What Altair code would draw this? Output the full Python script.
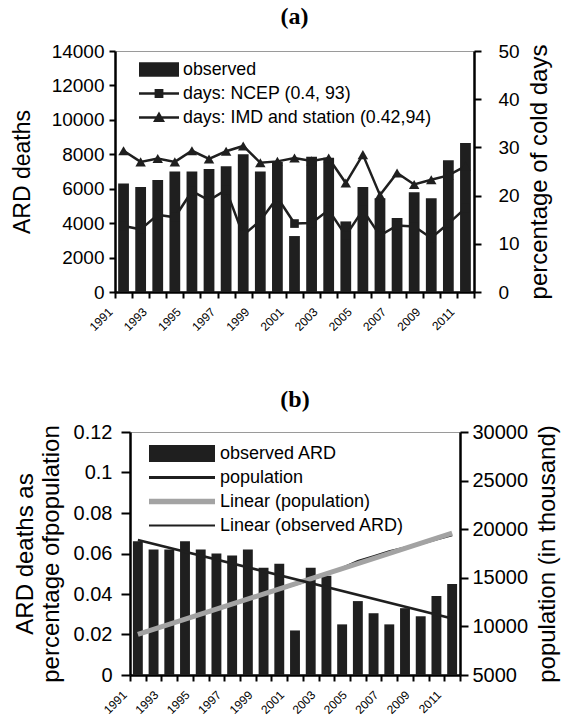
import altair as alt
import pandas as pd

# ---------------- data ----------------
years = list(range(1991, 2012))
ard_deaths = [6300, 6100, 6500, 7000, 7000, 7150, 7300, 8000, 7000, 7550, 3250,
              7850, 7800, 4100, 6100, 5450, 4300, 5800, 5450, 7650, 8650]
ncep_days = [13.7, 13.0, 16.0, 15.5, 20.9, 19.0, 21.2, 11.8, 14.8, 19.6, 14.2,
             14.3, 17.0, 11.7, 17.0, 11.7, 13.8, 13.6, 11.2, 14.2, 17.4]
imd_days = [29.3, 27.0, 27.7, 27.0, 29.3, 27.6, 29.2, 30.3, 26.8, 27.1, 27.8,
            27.2, 27.8, 22.6, 28.5, 20.1, 24.7, 22.3, 23.3, 24.2, 26.1]
ard_pct = [0.066, 0.062, 0.062, 0.066, 0.062, 0.060, 0.059, 0.062, 0.053, 0.055, 0.022,
           0.053, 0.049, 0.025, 0.0365, 0.0305, 0.025, 0.033, 0.029, 0.039, 0.045]
population = [9300, 9750, 10200, 10700, 11200, 11700, 12250, 12750, 13300, 13800, 14300,
              14800, 15400, 16000, 16700, 17200, 17700, 18100, 18500, 18950, 19400]

deaths_ticks = [0, 2000, 4000, 6000, 8000, 10000, 12000, 14000]
cold_ticks = [0, 10, 20, 30, 40, 50]
pct_ticks = [0, 0.02, 0.04, 0.06, 0.08, 0.1, 0.12]
pop_ticks = [5000, 10000, 15000, 20000, 25000, 30000]

legend_a = ["observed", "days: NCEP (0.4, 93)", "days: IMD and station (0.42,94)"]
legend_b = ["observed ARD", "population", "Linear (population)", "Linear (observed ARD)"]

# legend symbol shapes (unit paths, scaled by the legend symbol size)
paths_a = [
    "M-1,-0.36H1V0.36H-1Z",
    "M-1,-0.065H1V0.065H-1Z M-0.22,-0.22H0.22V0.22H-0.22Z",
    "M-1,-0.065H1V0.065H-1Z M-0.3,0.22L0,-0.3L0.3,0.22Z",
]
paths_b = [
    "M-1,-0.26H1V0.26H-1Z",
    "M-1,-0.045H1V0.045H-1Z",
    "M-1,-0.08H1V0.08H-1Z",
    "M-1,-0.03H1V0.03H-1Z",
]
colors_b = ["#1f1f1f", "#1f1f1f", "#a3a3a3", "#1f1f1f"]

FONT = "Liberation Sans"
INK = "#1f1f1f"
FRAME = "#9a9a9a"

# panel (b) is drawn 15 px in from its group edge, so that its frame sits
# further right than panel (a)'s, as in the reference
B_SHIFT = 15
B_WIDTH = 330

df_a = pd.DataFrame({"year": years, "deaths": ard_deaths, "ncep": ncep_days, "imd": imd_days})
df_b = pd.DataFrame({"year": years, "pct": ard_pct, "pop": population})

bottom_axis = alt.Axis(tickBand="extent", labelAngle=315, labelAlign="right", labelBaseline="top",
                       labelExpr="datum.value % 2 == 1 ? datum.label : ''",
                       labelFontSize=12, labelPadding=8, labelOffset=-17, tickSize=6,
                       labelOverlap=False)
top_frame_axis = alt.Axis(orient="top", labels=False, ticks=False, domainColor=FRAME,
                          domainWidth=1, title=None)


def x_a():
    return alt.X("year:O", title=None,
                 scale=alt.Scale(domain=years, paddingInner=0, paddingOuter=0),
                 axis=bottom_axis)


def x_b(axis):
    return alt.X("year:O", title=None,
                 scale=alt.Scale(domain=years, range=[B_SHIFT, B_SHIFT + B_WIDTH],
                                 paddingInner=0, paddingOuter=0),
                 axis=axis)


# ---------------- panel (a) ----------------
bars_a = alt.Chart(df_a).mark_bar(color=INK, width=alt.RelativeBandSize(0.63)).encode(
    x=x_a(),
    y=alt.Y("deaths:Q", scale=alt.Scale(domain=[0, 14000], nice=False),
            axis=alt.Axis(values=deaths_ticks, format="d", title="ARD deaths",
                          titleFontSize=23, titlePadding=17, labelFontSize=19,
                          tickSize=6, labelPadding=5)),
)

right_axis_a = alt.Axis(values=cold_ticks, format="d", orient="right",
                        title="percentage of cold days", titleAngle=270, titleBaseline="top",
                        titleFontSize=24, titlePadding=8, labelFontSize=19,
                        tickSize=7, labelPadding=17)

ncep_line = alt.Chart(df_a).mark_line(
    color=INK, strokeWidth=2.5,
    point=alt.OverlayMarkDef(shape="square", size=75, filled=True, color=INK, opacity=1),
).encode(
    x=x_a(),
    y=alt.Y("ncep:Q", scale=alt.Scale(domain=[0, 50], nice=False), axis=right_axis_a),
)
imd_line = alt.Chart(df_a).mark_line(
    color=INK, strokeWidth=2.5,
    point=alt.OverlayMarkDef(shape="triangle-up", size=110, filled=True, color=INK, opacity=1),
).encode(
    x=x_a(),
    y=alt.Y("imd:Q", scale=alt.Scale(domain=[0, 50], nice=False), axis=right_axis_a),
)

legend_a_layer = alt.Chart(pd.DataFrame({"series": legend_a})).transform_filter("false").mark_point(
    filled=True, color=INK, opacity=1, strokeWidth=0
).encode(
    shape=alt.Shape("series:N", scale=alt.Scale(domain=legend_a, range=paths_a),
                    legend=alt.Legend(title=None, orient="none", legendX=24, legendY=7,
                                      symbolSize=1600, clipHeight=23, rowPadding=1,
                                      labelOffset=4, labelFontSize=17.8, symbolStrokeWidth=0,
                                      padding=0, labelLimit=400)),
)

panel_a = alt.layer(
    bars_a, alt.layer(ncep_line, imd_line), legend_a_layer
).resolve_scale(y="independent").properties(
    width=359, height=241,
    title=alt.Title("(a)", font="Liberation Serif", fontSize=24, fontWeight="bold",
                    anchor="middle", offset=13, color="black"),
)

# ---------------- panel (b) ----------------
bars_b = alt.Chart(df_b).mark_bar(color=INK, width=alt.RelativeBandSize(0.63)).encode(
    x=x_b(bottom_axis),
    y=alt.Y("pct:Q", scale=alt.Scale(domain=[0, 0.12], nice=False),
            axis=alt.Axis(values=pct_ticks, format=".2~f", offset=-B_SHIFT,
                          title=["ARD deaths as", "percentage ofpopulation"],
                          titleFontSize=24, titleLineHeight=26, titlePadding=10,
                          labelFontSize=20, tickSize=9, labelPadding=9)),
)

right_axis_b = alt.Axis(values=pop_ticks, format="d", orient="right",
                        title="population (in thousand)", titleAngle=270, titleBaseline="top",
                        titleFontSize=24, titlePadding=8, labelFontSize=20,
                        tickSize=8, labelPadding=4)

pop_line = alt.Chart(df_b).mark_line(color=INK, strokeWidth=2.5).encode(
    x=x_b(top_frame_axis),
    y=alt.Y("pop:Q", scale=alt.Scale(domain=[5000, 30000], nice=False), axis=right_axis_b),
)
pop_trend = alt.Chart(df_b).transform_regression("year", "pop").mark_line(
    color="#a3a3a3", strokeWidth=5
).encode(
    x=x_b(top_frame_axis),
    y=alt.Y("pop:Q", scale=alt.Scale(domain=[5000, 30000], nice=False), axis=right_axis_b),
)
ard_trend = alt.Chart(df_b).transform_regression("year", "pct").mark_line(
    color=INK, strokeWidth=2.6
).encode(
    x=x_b(None),
    y=alt.Y("pct:Q", scale=alt.Scale(domain=[0, 0.12], nice=False), axis=None),
)

legend_b_def = alt.Legend(title=None, orient="none", legendX=19 + B_SHIFT, legendY=10,
                          symbolSize=4356, clipHeight=23, rowPadding=1,
                          labelOffset=5, labelFontSize=18, symbolStrokeWidth=0,
                          padding=0, labelLimit=400)
legend_b_layer = alt.Chart(pd.DataFrame({"series": legend_b})).transform_filter("false").mark_point(
    filled=True, opacity=1, strokeWidth=0
).encode(
    shape=alt.Shape("series:N", scale=alt.Scale(domain=legend_b, range=paths_b), legend=legend_b_def),
    color=alt.Color("series:N", scale=alt.Scale(domain=legend_b, range=colors_b), legend=legend_b_def),
)

panel_b = alt.layer(
    bars_b, alt.layer(pop_line, pop_trend), ard_trend, legend_b_layer
).resolve_scale(y="independent", x="independent").properties(
    width=B_SHIFT + B_WIDTH, height=243,
    view=alt.ViewBackground(stroke="transparent"),
    title=alt.Title("(b)", font="Liberation Serif", fontSize=24, fontWeight="bold",
                    anchor="middle", offset=10, color="black", dx=B_SHIFT / 2),
)

chart = alt.vconcat(panel_a, panel_b, spacing=53).resolve_scale(
    shape="independent", color="independent", x="independent"
).resolve_legend(
    shape="independent", color="independent"
).properties(
    padding={"left": 10, "top": 4, "right": 2, "bottom": 2}
).configure_axis(
    domainColor="black", domainWidth=2.5, tickColor="black", tickWidth=2,
    labelColor="black", titleColor="black", labelFont=FONT, titleFont=FONT,
    titleFontWeight="normal", grid=False,
).configure_view(
    stroke=FRAME, strokeWidth=1
).configure_legend(
    labelFont=FONT, labelColor="black"
)

chart.save("out.html", embed_options={"renderer": "svg", "actions": False})
